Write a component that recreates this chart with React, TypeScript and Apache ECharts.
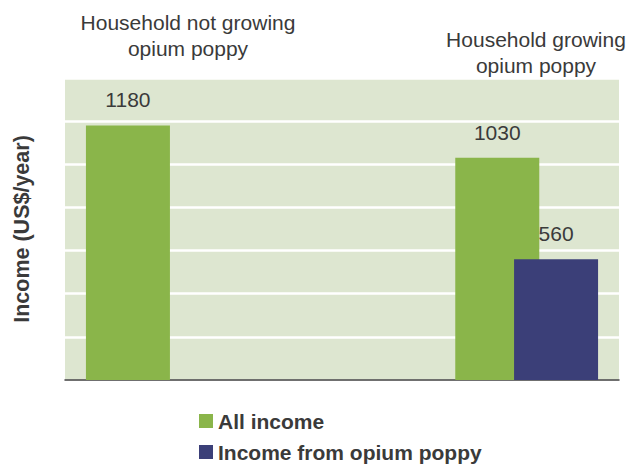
import React, { useEffect, useRef } from "react";
import * as echarts from "echarts";

const categories = ["Household not growing\nopium poppy", "", "Household growing\nopium poppy"];
const allIncome: (number | null)[] = [1180, null, 1030];
const opiumIncome: (number | null)[] = [null, null, 560];
const seriesNames = ["All income", "Income from opium poppy"];
const yAxisName = "Income (US$/year)";

const FONT = "'Liberation Sans', Arial, sans-serif";
const TEXT = "#3a3a3a";

export default function App() {
  const ref = useRef<HTMLDivElement>(null);
  useEffect(() => {
    if (!ref.current) return;
    const chart = echarts.init(ref.current, undefined, { renderer: "svg" });
    const labelPos = [
      { x: 188, y: 9 },
      { x: 536, y: 26 },
    ];
    const namedCats = categories.filter((c) => c !== "");
    chart.setOption({
      animation: false,
      textStyle: { fontFamily: FONT },
      grid: {
        left: 65,
        right: 10,
        top: 78,
        bottom: 86,
        show: true,
        backgroundColor: "#dde6d0",
        borderWidth: 0,
      },
      xAxis: {
        type: "category",
        data: categories,
        axisLabel: { show: false },
        axisTick: { show: false },
        axisLine: { show: true, lineStyle: { color: "#404040", width: 1.5 } },
        splitLine: { show: false },
      },
      yAxis: {
        type: "value",
        min: 0,
        max: 1400,
        interval: 200,
        name: yAxisName,
        nameLocation: "middle",
        nameGap: 32,
        nameTextStyle: { fontSize: 21.5, fontWeight: "bold", color: TEXT, fontFamily: FONT },
        axisLabel: { show: false },
        axisTick: { show: false },
        axisLine: { show: false },
        splitLine: { show: true, lineStyle: { color: "#ffffff", width: 2.5 } },
      },
      legend: {
        orient: "vertical",
        left: 199,
        top: 410,
        height: 80,
        padding: 0,
        itemWidth: 14,
        itemHeight: 14,
        itemGap: 9,
        icon: "rect",
        data: seriesNames,
        textStyle: { fontSize: 21, lineHeight: 22, fontWeight: "bold", color: TEXT, fontFamily: FONT },
      },
      series: [
        {
          name: seriesNames[0],
          type: "bar",
          data: allIncome,
          barWidth: 84,
          barGap: "-30%",
          itemStyle: { color: "#8ab54a" },
          label: {
            show: true,
            position: "top",
            distance: 15,
            fontSize: 21,
            color: TEXT,
            fontFamily: FONT,
          },
        },
        {
          name: seriesNames[1],
          type: "bar",
          data: opiumIncome,
          barWidth: 84,
          barGap: "-30%",
          itemStyle: { color: "#3b3f78" },
          label: {
            show: true,
            position: "top",
            distance: 15,
            fontSize: 21,
            color: TEXT,
            fontFamily: FONT,
          },
        },
      ],
      graphic: namedCats.map((c, i) => ({
        type: "text",
        x: labelPos[i].x,
        y: labelPos[i].y,
        style: {
          text: c,
          fontSize: 21,
          lineHeight: 26,
          fill: TEXT,
          fontFamily: FONT,
          align: "center",
          verticalAlign: "top",
        },
      })),
    });
    return () => chart.dispose();
  }, []);
  return <div ref={ref} style={{ width: 629, height: 466, position: "absolute", left: 0, top: 0 }} />;
}
